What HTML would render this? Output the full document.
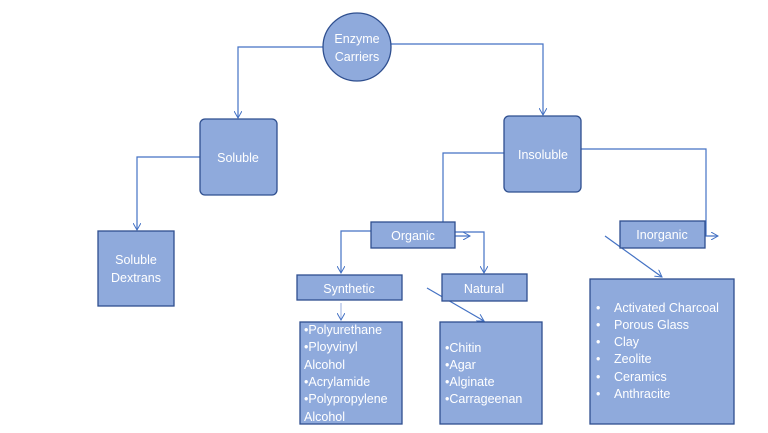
<!DOCTYPE html>
<html><head><style>body{margin:0;background:#fff}svg{display:block}text{font-family:"Liberation Sans",sans-serif;fill:#fff}</style></head><body>
<svg width="768" height="433" viewBox="0 0 768 433" xmlns="http://www.w3.org/2000/svg">
<defs><marker id="a" markerWidth="8" markerHeight="8" refX="7" refY="4" orient="auto" markerUnits="userSpaceOnUse"><path d="M0,0 L7,4 L0,8" fill="none" stroke="#4472c4" stroke-width="1"/></marker></defs>
<g fill="none" stroke="#4472c4" stroke-width="1.2">
<polyline points="323,47 238,47 238,118" marker-end="url(#a)"/>
<polyline points="391,44 543,44 543,115" marker-end="url(#a)"/>
<polyline points="200,157 137,157 137,230" marker-end="url(#a)"/>
<polyline points="504,153 443,153 443,236 470,236" marker-end="url(#a)"/>
<polyline points="581,149 706,149 706,236 718,236" marker-end="url(#a)"/>
<polyline points="371,231 341,231 341,273" marker-end="url(#a)"/>
<polyline points="455,232 484,232 484,273" marker-end="url(#a)"/>
<line x1="341" y1="303" x2="341" y2="320" stroke="#a9bce6" marker-end="url(#a)"/>
<line x1="427" y1="288" x2="484" y2="321" marker-end="url(#a)"/>
<line x1="605" y1="236" x2="662" y2="277" marker-end="url(#a)"/>
</g>
<g fill="#8faadc" stroke="#2f4f8f" stroke-width="1.3">
<circle cx="357" cy="47" r="34"/>
<rect x="200" y="119" width="77" height="76" rx="5"/>
<rect x="504" y="116" width="77" height="76" rx="5"/>
<rect x="98" y="231" width="76" height="75"/>
<rect x="371" y="222" width="84" height="26"/>
<rect x="297" y="275" width="105" height="25"/>
<rect x="442" y="274" width="85" height="27"/>
<rect x="620" y="221" width="85" height="27"/>
<rect x="300" y="322" width="102" height="102"/>
<rect x="440" y="322" width="102" height="102"/>
<rect x="590" y="279" width="144" height="145"/>
</g>
<g font-size="12.5">
<text x="357" y="43" text-anchor="middle">Enzyme</text>
<text x="357" y="61" text-anchor="middle">Carriers</text>
<text x="238" y="162" text-anchor="middle">Soluble</text>
<text x="543" y="159" text-anchor="middle">Insoluble</text>
<text x="136" y="264" text-anchor="middle">Soluble</text>
<text x="136" y="282" text-anchor="middle">Dextrans</text>
<text x="413" y="240" text-anchor="middle">Organic</text>
<text x="349" y="293" text-anchor="middle">Synthetic</text>
<text x="484" y="293" text-anchor="middle">Natural</text>
<text x="662" y="239" text-anchor="middle">Inorganic</text>
<text x="304" y="334">•Polyurethane</text>
<text x="304" y="351">•Ployvinyl</text>
<text x="304" y="369">Alcohol</text>
<text x="304" y="386">•Acrylamide</text>
<text x="304" y="403">•Polypropylene</text>
<text x="304" y="421">Alcohol</text>
<text x="445" y="352">•Chitin</text>
<text x="445" y="369">•Agar</text>
<text x="445" y="386">•Alginate</text>
<text x="445" y="403">•Carrageenan</text>
<g><text x="596" y="312">•</text><text x="614" y="312">Activated Charcoal</text>
<text x="596" y="329">•</text><text x="614" y="329">Porous Glass</text>
<text x="596" y="346">•</text><text x="614" y="346">Clay</text>
<text x="596" y="363">•</text><text x="614" y="363">Zeolite</text>
<text x="596" y="381">•</text><text x="614" y="381">Ceramics</text>
<text x="596" y="398">•</text><text x="614" y="398">Anthracite</text></g>
</g>
</svg>
</body></html>
